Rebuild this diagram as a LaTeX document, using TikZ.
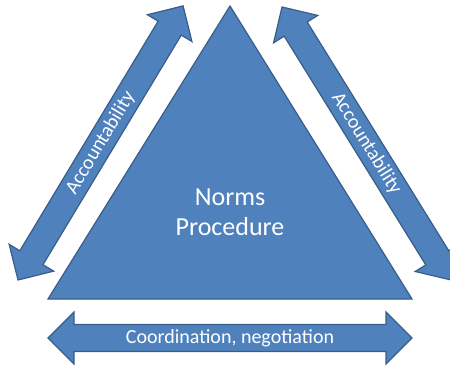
\documentclass[tikz,border=0pt]{standalone}
\usepackage{fontspec}
\setmainfont{Carlito}
\usepackage{tikz}
\usetikzlibrary{positioning}
\definecolor{officeblue}{HTML}{4F81BD}
\definecolor{officeedge}{HTML}{385D8A}

% fat double arrow: start point, angle, length, node name, label
\newcommand{\fatarrow}[5]{%
  \begin{scope}[shift={#1}, rotate=#2]
    \draw[blockshape] (0,0) -- (26,26) -- (26,13.5) -- (#3-26,13.5) -- (#3-26,26)
      -- (#3,0) -- (#3-26,-26) -- (#3-26,-13.5) -- (26,-13.5) -- (26,-26) -- cycle;
    \node[arrowtext, rotate=#2] (#4) at (#3/2,0) {#5};
  \end{scope}}

\begin{document}
\begin{tikzpicture}[x=1pt, y=1pt,
                    blockshape/.style={fill=officeblue, draw=officeedge, line width=1.2pt, line join=miter},
                    arrowtext/.style={text=white, font=\fontsize{20}{24}\selectfont, inner sep=0pt},
                    maintext/.style={text=white, font=\fontsize{26}{30}\selectfont, align=center},
                   ]

\clip (0,0) rectangle (450,365);
\useasboundingbox (0,0) rectangle (450,365);

% triangle
\coordinate (apex) at (230,359);
\coordinate (baseL) at (48,66);
\coordinate (baseR) at (412,66);
\draw[blockshape] (apex) -- (baseR) -- (baseL) -- cycle;
\node[maintext] (norms) at (230,153) {Norms\\Procedure};

% arrows
\fatarrow{(18,85)}{58.94}{320}{accleft}{Accountability}
\fatarrow{(282,358)}{-58.24}{321}{accright}{Accountability}
\fatarrow{(48,27)}{0}{364}{coord}{Coordination, negotiation}

\end{tikzpicture}
\end{document}
